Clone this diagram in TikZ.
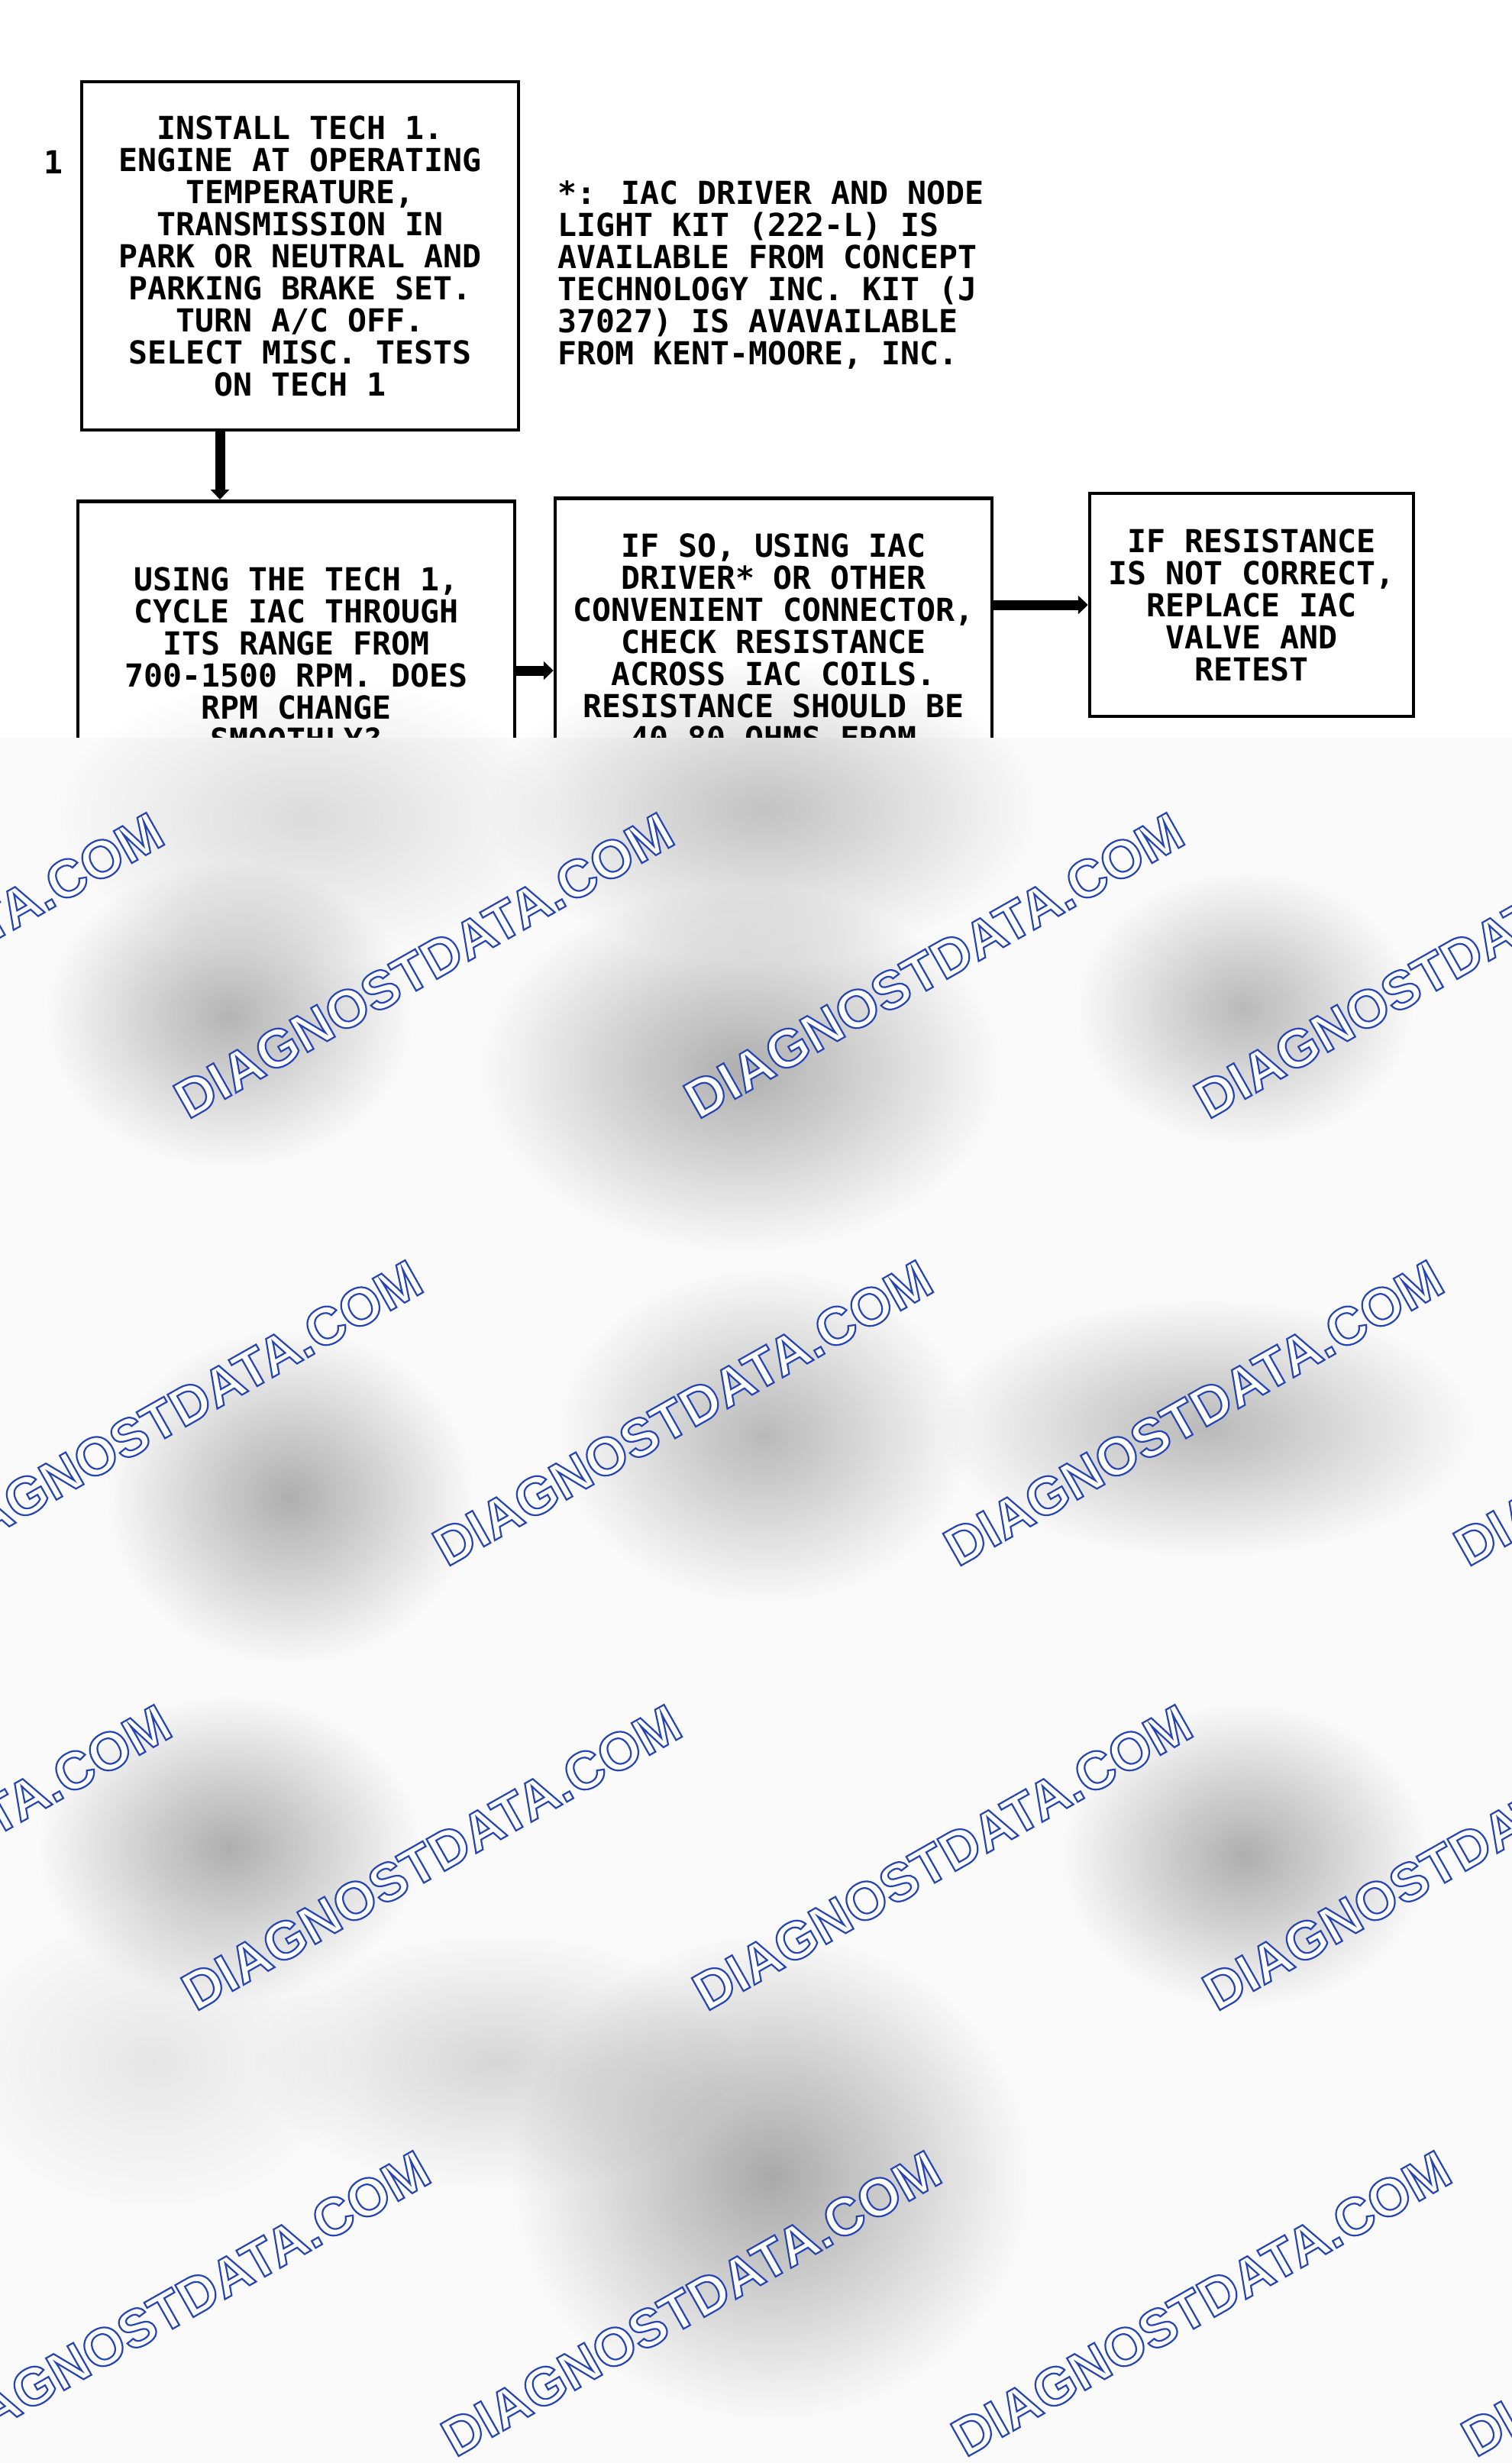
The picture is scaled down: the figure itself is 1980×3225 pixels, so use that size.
\documentclass[tikz,border=0pt]{standalone}
\usepackage{fontspec}
\usepackage{tikz}
\usetikzlibrary{arrows.meta, positioning, fadings}
\newfontfamily\gmfont{DejaVu Sans Mono}
\newfontfamily\wmfont{Liberation Sans}
\definecolor{wmblue}{RGB}{38,68,178}
% outlined text: white fill, blue stroke
\newcommand\outlined[1]{\special{pdf:literal direct 2 Tr 2.2 w 0.149 0.267 0.698 RG}#1}
\tikzset{
  stepnode/.style = {align=center, inner sep=0pt, text centered,
    font=\gmfont\bfseries\fontsize{41.5}{42}\selectfont},
  stepbox/.style = {stepnode, rectangle, black, draw=black,
    line width=4.5pt, minimum width=572pt},
  flowline/.style = {line width=13pt, -{Triangle[width=24pt,length=13pt]}},
  wmark/.style = {rotate=29.5, inner sep=0pt, text=white,
    font=\wmfont\bfseries\fontsize{70}{70}\selectfont}
}
\tikzfading[name=blobfade, inner color=transparent!0, outer color=transparent!100]

\begin{document}
\begin{tikzpicture}[x=1pt, y=-1pt]
\useasboundingbox [fill=white] (0,0) rectangle (1980,3225);
\node [stepnode] (stepno) at (70,212) {1};
\node [stepbox, minimum height=456pt] (install) at (393,335)
  {INSTALL TECH 1.\\ENGINE AT OPERATING\\TEMPERATURE,\\TRANSMISSION IN\\PARK OR NEUTRAL AND\\PARKING BRAKE SET.\\TURN A/C OFF.\\SELECT MISC. TESTS\\ON TECH 1};
\node [stepnode, align=left, anchor=north west] (footnote) at (730,236)
  {*: IAC DRIVER AND NODE\\LIGHT KIT (222-L) IS\\AVAILABLE FROM CONCEPT\\TECHNOLOGY INC. KIT (J\\37027) IS AVAVAILABLE\\FROM KENT-MOORE, INC.};
\node [stepbox, anchor=north, inner ysep=86pt] (cycle) at (388,654)
  {USING THE TECH 1,\\CYCLE IAC THROUGH\\ITS RANGE FROM\\700-1500 RPM. DOES\\RPM CHANGE\\SMOOTHLY?};
\node [stepbox, anchor=north, inner ysep=46pt] (resist) at (1013,650)
  {IF SO, USING IAC\\DRIVER* OR OTHER\\CONVENIENT CONNECTOR,\\CHECK RESISTANCE\\ACROSS IAC COILS.\\RESISTANCE SHOULD BE\\40-80 OHMS FROM};
\node [stepbox, minimum width=424pt, minimum height=292pt] (replace) at (1639,792)
  {IF RESISTANCE\\IS NOT CORRECT,\\REPLACE IAC\\VALVE AND\\RETEST};

\coordinate (mid23) at (700,878);
\draw [flowline] ([xshift=-105pt]install.south) -- ([xshift=-100pt]cycle.north);
\draw [flowline] (cycle.east |- mid23) -- (resist.west |- mid23);
\draw [flowline] (resist.east |- replace.west) -- (replace.west);

% blurred part of the page
\fill [gray!4] (0,966) rectangle (1980,3225);
\foreach \bx/\by/\rx/\ry/\op in {1000/1060/360/200/0.22, 400/1070/330/190/0.12,
    300/1330/240/200/0.28, 970/1400/340/240/0.3, 1630/1320/220/180/0.26,
    380/1960/240/220/0.3, 1000/1880/270/220/0.26, 1580/1870/350/170/0.26,
    300/2420/250/200/0.3, 1630/2430/240/200/0.3, 1010/2850/340/320/0.32,
    650/2700/320/170/0.14, 200/2700/260/200/0.08}
  \fill [black, opacity=\op, path fading=blobfade] (\bx,\by) ellipse [x radius=\rx, y radius=\ry];

% watermark
\foreach \wx/\wy [count=\i] in {-113/1264, 555/1264, 1223/1264, 1891/1264,
    -442/1850, 226/1850, 894/1850, 1563/1850, 2231/1850,
    -103/2432, 565/2432, 1234/2432, 1902/2432,
    -432/3016, 236/3016, 905/3016, 1573/3016, 2241/3016}
  \node [wmark] (wm\i) at (\wx,\wy) {\outlined{DIAGNOSTDATA.COM}};
\end{tikzpicture}
\end{document}
